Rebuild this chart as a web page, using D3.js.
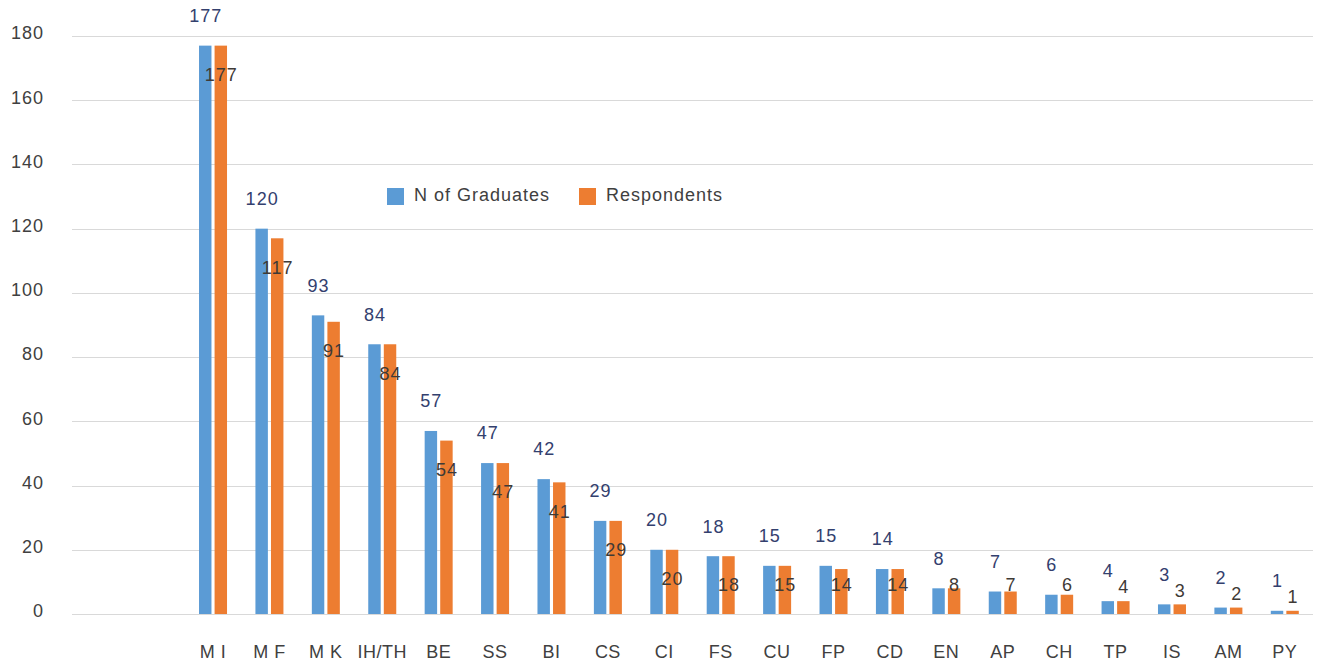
<!DOCTYPE html>
<html>
<head>
<meta charset="utf-8">
<script src="https://cdn.jsdelivr.net/npm/d3@7"></script>
<style>
  body { margin: 0; background: #fff; }
  text { font-family: "Liberation Sans", Arial, sans-serif; }
</style>
</head>
<body>
<svg id="chart"></svg>
<script>
// chart values
var categories = ["M I", "M F", "M K", "IH/TH", "BE", "SS", "BI", "CS", "CI", "FS",
                  "CU", "FP", "CD", "EN", "AP", "CH", "TP", "IS", "AM", "PY"];
var graduates = [177, 120, 93, 84, 57, 47, 42, 29, 20, 18, 15, 15, 14, 8, 7, 6, 4, 3, 2, 1];
var respondents = [177, 117, 91, 84, 54, 47, 41, 29, 20, 18, 15, 14, 14, 8, 7, 6, 4, 3, 2, 1];
var seriesNames = ["N of Graduates", "Respondents"];
var yTicks = [0, 20, 40, 60, 80, 100, 120, 140, 160, 180];
// two empty slots sit before the first category in the original
var emptySlots = ["_blank0", "_blank1"];

var w = 1317, h = 664;
var colors = ["#5B9BD5", "#ED7D31"];
var labelColors = ["#33406E", "#3F3A36"];

var svg = d3.select('#chart').attr('width', w).attr('height', h);

var x = d3.scaleBand()
  .domain(emptySlots.concat(categories))
  .range([72, 1313])
  .padding(0);

var y = d3.scaleLinear().domain([0, 180]).range([614, 36]);

var bw = x.bandwidth();
var x1 = d3.scaleBand()
  .domain(seriesNames)
  .range([bw / 2 - 14, bw / 2 + 14])
  .paddingInner(0.2);

// gridlines
svg.append('g')
  .selectAll('line')
  .data(yTicks)
  .join('line')
  .attr('x1', 72)
  .attr('x2', 1313)
  .attr('y1', function(d) { return Math.round(y(d)) + 0.5; })
  .attr('y2', function(d) { return Math.round(y(d)) + 0.5; })
  .attr('stroke', '#d9d9d9')
  .attr('stroke-width', 1);

// y tick labels
svg.append('g')
  .selectAll('text')
  .data(yTicks)
  .join('text')
  .attr('x', 44)
  .attr('y', function(d) { return y(d) - 3; })
  .attr('dy', '0.35em')
  .attr('text-anchor', 'end')
  .attr('font-size', '18px')
  .attr('letter-spacing', '1px')
  .attr('fill', '#404040')
  .text(function(d) { return d; });

var rows = categories.map(function(c, i) {
  return { cat: c, values: [graduates[i], respondents[i]] };
});

var groups = svg.append('g')
  .selectAll('g')
  .data(rows)
  .join('g')
  .attr('transform', function(d) { return 'translate(' + x(d.cat) + ',0)'; });

groups.selectAll('rect')
  .data(function(d) {
    return d.values.map(function(v, k) { return { name: seriesNames[k], value: v, k: k }; });
  })
  .join('rect')
  .attr('x', function(d) { return x1(d.name); })
  .attr('width', x1.bandwidth())
  .attr('y', function(d) { return y(d.value); })
  .attr('height', function(d) { return y(0) - y(d.value); })
  .attr('fill', function(d) { return colors[d.k]; });

// value labels: blue above bar, orange tucked inside/near the top
groups.selectAll('text.val')
  .data(function(d) {
    return d.values.map(function(v, k) { return { name: seriesNames[k], value: v, k: k }; });
  })
  .join('text')
  .attr('class', 'val')
  .attr('x', function(d) { return x1(d.name) + x1.bandwidth() / 2 + 0.5; })
  .attr('y', function(d) {
    var top = y(d.value);
    if (d.k === 0) return top - 30;
    return Math.min(top + 29, Math.max(585, top - 14));
  })
  .attr('dy', '0.35em')
  .attr('text-anchor', 'middle')
  .attr('font-size', '18px')
  .attr('letter-spacing', '1px')
  .attr('fill', function(d) { return labelColors[d.k]; })
  .text(function(d) { return d.value; });

// x category labels
svg.append('g')
  .selectAll('text')
  .data(categories)
  .join('text')
  .attr('x', function(d) { return x(d) + bw / 2; })
  .attr('y', 652)
  .attr('dy', '0.35em')
  .attr('text-anchor', 'middle')
  .attr('font-size', '18px')
  .attr('letter-spacing', '0.5px')
  .attr('fill', '#404040')
  .text(function(d) { return d; });

// legend
var legendX = [387, 579];
var legend = svg.append('g')
  .selectAll('g')
  .data(seriesNames)
  .join('g')
  .attr('transform', function(d, i) { return 'translate(' + legendX[i] + ',188)'; });

legend.append('rect')
  .attr('width', 17)
  .attr('height', 17)
  .attr('fill', function(d, i) { return colors[i]; });

legend.append('text')
  .attr('x', 27)
  .attr('y', 7)
  .attr('dy', '0.35em')
  .attr('font-size', '18px')
  .attr('letter-spacing', '1px')
  .attr('fill', '#404040')
  .text(function(d) { return d; });
</script>
</body>
</html>
